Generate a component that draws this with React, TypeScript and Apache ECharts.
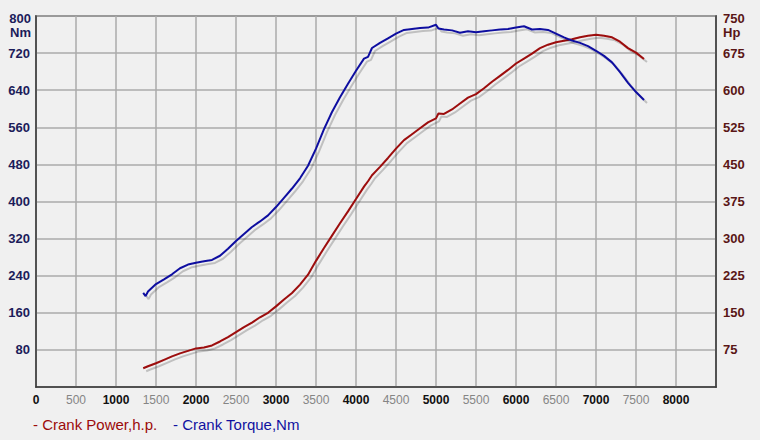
import React, { useEffect, useRef } from "react";
import * as echarts from "echarts";

const rpm = [
  1340, 1370, 1400, 1500, 1600, 1700, 1800, 1900, 2000, 2100, 2200, 2300, 2400, 2500, 2600, 2700, 2800, 2900,
  3000, 3100, 3200, 3300, 3400, 3500, 3600, 3700, 3800, 3900, 4000, 4100, 4150, 4200, 4300, 4400, 4500, 4600,
  4700, 4800, 4900, 5000, 5030, 5100, 5200, 5300, 5400, 5500, 5600, 5700, 5800, 5900, 6000, 6100, 6200, 6300,
  6400, 6500, 6600, 6700, 6800, 6900, 7000, 7100, 7200, 7300, 7400, 7500, 7600,
];

const torqueNm = [
  203, 196, 206, 222, 232, 243, 256, 264, 268, 271, 274, 283, 298, 315, 330, 345, 357, 370,
  388, 408, 428, 450, 477, 514, 556, 593, 625, 654, 682, 708, 712, 731, 742, 752, 762, 770,
  772, 774, 775, 781, 773, 771, 769, 764, 767, 765, 767, 769, 771, 772, 775, 778, 771, 772,
  770, 762, 754, 747, 742, 735, 725, 714, 700, 679, 656, 636, 619,
];

const powerHp = [
  38, 40, 42, 48, 55, 62, 68, 73, 78, 80, 84, 92, 101, 111, 121, 130, 141, 150,
  163, 177, 190, 207, 227, 255, 281, 306, 331, 355, 380, 405, 416, 428, 445, 463, 482, 499,
  511, 523, 535, 543, 553, 552, 561, 573, 585, 592, 604, 617, 629, 641, 654, 664, 674, 685,
  692, 697, 700, 703, 707, 710, 712, 710, 707, 698, 685, 676, 663,
];

const xTicks = { min: 0, max: 8500, interval: 500 };
const nmTicks = { min: 0, max: 800, interval: 80 };
const hpTicks = { min: 0, max: 750, interval: 75 };

const seriesNames = ["Crank Power,h.p.", "Crank Torque,Nm"];
const unitLeft = ["800", "Nm"];
const unitRight = ["750", "Hp"];

const FONT = "'Liberation Sans', Arial, sans-serif";
const RED = "#9c0a0a";
const BLUE = "#1010a0";
const NAVY = "#1c1c5a";
const MAROON = "#5a1616";

export default function App() {
  const ref = useRef<HTMLDivElement>(null);

  useEffect(() => {
    if (!ref.current) return;
    const chart = echarts.init(ref.current, null, { renderer: "svg" });
    const shadow = {
      shadowColor: "rgba(0,0,0,0.2)",
      shadowOffsetX: 3,
      shadowOffsetY: 3,
      shadowBlur: 1,
    };
    chart.setOption({
      animation: false,
      backgroundColor: "#f0f0f0",
      textStyle: { fontFamily: FONT },
      grid: {
        left: 36,
        top: 16,
        width: 680,
        height: 371,
        show: true,
        borderColor: "#3a3a3a",
        borderWidth: 1.5,
        backgroundColor: "#f0f0f0",
      },
      xAxis: {
        type: "value",
        ...xTicks,
        axisLine: { show: true, lineStyle: { color: "#3a3a3a", width: 1.5 } },
        axisTick: { show: false },
        splitLine: { show: true, lineStyle: { color: "#ababab", width: 1.5 } },
        axisLabel: {
          margin: 7,
          formatter: (v: number) => {
            if (v >= 8500) return "";
            return v % 1000 === 0 ? `{b|${v}}` : `{g|${v}}`;
          },
          rich: {
            b: { color: "#111", fontWeight: "bold", fontSize: 12, fontFamily: FONT },
            g: { color: "#858585", fontSize: 12, fontFamily: FONT },
          },
        },
      },
      yAxis: [
        {
          type: "value",
          ...nmTicks,
          position: "left",
          axisLine: { show: true, lineStyle: { color: "#3a3a3a", width: 1.5 } },
          axisTick: { show: false },
          splitLine: { show: true, lineStyle: { color: "#ababab", width: 1.5 } },
          axisLabel: {
            margin: 6,
            color: NAVY,
            fontSize: 13,
            fontWeight: "bold",
            fontFamily: FONT,
            formatter: (v: number) => (v === 0 || v === 800 ? "" : String(v)),
          },
        },
        {
          type: "value",
          ...hpTicks,
          position: "right",
          axisLine: { show: true, lineStyle: { color: "#3a3a3a", width: 1.5 } },
          axisTick: { show: false },
          splitLine: { show: false },
          axisLabel: {
            margin: 7,
            color: MAROON,
            fontSize: 13,
            fontWeight: "bold",
            fontFamily: FONT,
            formatter: (v: number) => (v === 0 || v === 750 ? "" : String(v)),
          },
        },
      ],
      graphic: [
        {
          type: "text",
          right: 760 - 31,
          top: 12,
          style: { text: unitLeft[0], fill: NAVY, font: `bold 13px ${FONT}`, align: "right" },
        },
        {
          type: "text",
          right: 760 - 31,
          top: 26,
          style: { text: unitLeft[1], fill: NAVY, font: `bold 13px ${FONT}`, align: "right" },
        },
        {
          type: "text",
          left: 723,
          top: 12,
          style: { text: unitRight[0], fill: MAROON, font: `bold 13px ${FONT}` },
        },
        {
          type: "text",
          left: 723,
          top: 26,
          style: { text: unitRight[1], fill: MAROON, font: `bold 13px ${FONT}` },
        },
        {
          type: "text",
          left: 33,
          top: 417,
          style: { text: "- " + seriesNames[0], fill: RED, font: `15px ${FONT}` },
        },
        {
          type: "text",
          left: 173,
          top: 417,
          style: { text: "- " + seriesNames[1], fill: BLUE, font: `15px ${FONT}` },
        },
      ],
      series: [
        {
          name: seriesNames[0],
          type: "line",
          yAxisIndex: 1,
          showSymbol: false,
          smooth: false,
          data: rpm.map((r, i) => [r, powerHp[i]]),
          lineStyle: { color: RED, width: 2, ...shadow },
        },
        {
          name: seriesNames[1],
          type: "line",
          yAxisIndex: 0,
          showSymbol: false,
          smooth: false,
          data: rpm.map((r, i) => [r, torqueNm[i]]),
          lineStyle: { color: BLUE, width: 2, ...shadow },
        },
      ],
    });
    return () => chart.dispose();
  }, []);

  return (
    <div
      ref={ref}
      style={{ width: 760, height: 440, position: "fixed", left: 0, top: 0, background: "#f0f0f0" }}
    />
  );
}
